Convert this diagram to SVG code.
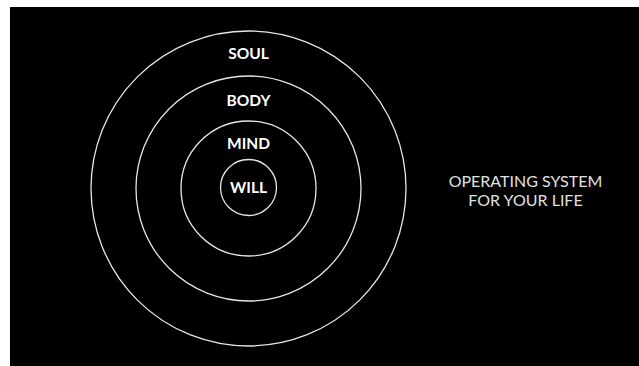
<svg xmlns="http://www.w3.org/2000/svg" width="639" height="366" viewBox="0 0 639 366">
<style>
.ring{fill:none;stroke:#e6e6e6;stroke-width:1.3}
.lbl{font-family:Lato,"Open Sans",sans-serif;font-weight:bold;font-size:15.5px;fill:#ffffff;text-anchor:middle}
.cap{font-family:Lato,"Open Sans",sans-serif;font-weight:normal;font-size:16px;fill:#e0e0e0;text-anchor:middle}
</style>
<rect x="0" y="0" width="639" height="366" fill="#ffffff"/>
<rect x="10" y="7" width="629" height="359" fill="#000000"/>
<g id="soul"><circle class="ring" cx="248.5" cy="188.5" r="157.5"/><text class="lbl" x="248.5" y="59">SOUL</text></g>
<g id="body"><circle class="ring" cx="248.5" cy="188.5" r="112.5"/><text class="lbl" x="248.5" y="106">BODY</text></g>
<g id="mind"><circle class="ring" cx="248.5" cy="188.5" r="67.5"/><text class="lbl" x="248.5" y="149">MIND</text></g>
<g id="will"><circle class="ring" cx="248.5" cy="187.5" r="28"/><text class="lbl" x="248.5" y="193">WILL</text></g>
<g id="caption"><text class="cap" x="525.5" y="187">OPERATING SYSTEM</text><text class="cap" x="525.5" y="206">FOR YOUR LIFE</text></g>
<g id="connectors"/>
</svg>
